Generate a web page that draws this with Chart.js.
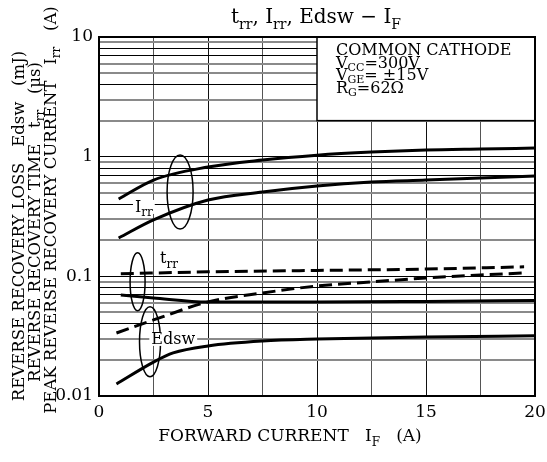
<!DOCTYPE html>
<html>
<head>
<meta charset="utf-8">
<script src="https://cdn.jsdelivr.net/npm/chart.js@4/dist/chart.umd.min.js"></script>
<style>
  html, body { margin: 0; padding: 0; background: #fff; }
  #wrap { width: 547px; height: 462px; }
</style>
</head>
<body>
<div id="wrap"><canvas id="c"></canvas></div>
<script>
// Curvas (IF en A, valores en escala log)
const IRR_IF   = [0.9, 2.5, 5, 7.5, 10, 12.5, 15, 17.5, 20];
const IRR_HI   = [0.443, 0.638, 0.82, 0.938, 1.03, 1.094, 1.138, 1.16, 1.18];
const IRR_LO   = [0.209, 0.296, 0.434, 0.507, 0.569, 0.614, 0.638, 0.664, 0.69];

const TRR_A_IF = [1, 5, 10, 15, 19.5];
const TRR_A    = [0.105, 0.109, 0.112, 0.115, 0.12];       // trazo cortado
const TRR_B_IF = [1, 2.5, 5, 10, 15, 20];
const TRR_B    = [0.0698, 0.0659, 0.061, 0.061, 0.0617, 0.0628];

const EDSW_A_IF = [0.8, 2.5, 5, 7.5, 10, 12.5, 15, 17.5, 19.5];
const EDSW_A    = [0.0336, 0.0432, 0.0611, 0.0726, 0.083, 0.0898, 0.0969, 0.1026, 0.1066]; // cortado
const EDSW_B_IF = [0.8, 2.5, 3.4, 5, 7.5, 10, 15, 20];
const EDSW_B    = [0.0126, 0.0192, 0.0229, 0.0262, 0.0288, 0.0299, 0.0311, 0.0319];

const Y_TICK_LABELS = ['0.01', '0.1', '1', '10'];
const X_TICK_LABELS = ['0', '5', '10', '15', '20'];

const FONT = '"DejaVu Serif", "Liberation Serif", serif';
Chart.defaults.font.family = FONT;
Chart.defaults.color = '#000';

const pts = (xs, ys) => xs.map((x, i) => ({ x, y: ys[i] }));

// gris / negro alternado como en la hoja de datos
const GRIS = { 9: 1, 6: 1, 5: 1, 3: 1, 2: 1 };
function colorY(ctx) {
  const v = ctx.tick && ctx.tick.value;
  if (!v) return '#000';
  const m = Math.round(v / Math.pow(10, Math.floor(Math.log10(v) + 1e-9)));
  return GRIS[m] ? '#8a8a8a' : '#000';
}
function anchoY(ctx) { return colorY(ctx) === '#000' ? 1 : 2; }

// texto con subíndices: segs = [[texto, esSub], ...]
function medir(ctx, segs, size, k) {
  const sub = Math.round(size * (k || 0.72));
  let w = 0;
  segs.forEach(([t, s]) => { ctx.font = (s ? sub : size) + 'px ' + FONT; w += ctx.measureText(t).width; });
  return w;
}
function rich(ctx, segs, x, y, size, align, k, off) {
  const sub = Math.round(size * (k || 0.72));
  const w = medir(ctx, segs, size, k);
  let cx = align === 'center' ? x - w / 2 : align === 'right' ? x - w : x;
  ctx.textAlign = 'left';
  ctx.textBaseline = 'alphabetic';
  segs.forEach(([t, s]) => {
    ctx.font = (s ? sub : size) + 'px ' + FONT;
    ctx.fillText(t, cx, y + (s ? size * (off || 0.28) : 0));
    cx += ctx.measureText(t).width;
  });
  return w;
}

const deco = {
  id: 'deco',
  beforeDatasetsDraw(chart) {
    const { ctx, scales: { x, y } } = chart;
    // recuadro de condiciones (tapa la grilla)
    const x0 = x.getPixelForValue(10), x1 = x.getPixelForValue(20);
    const y0 = y.getPixelForValue(10), y1 = y.getPixelForValue(2);
    ctx.save();
    ctx.fillStyle = '#fff';
    ctx.fillRect(x0, y0, x1 - x0, y1 - y0);
    ctx.strokeStyle = '#000'; ctx.lineWidth = 1.5;
    ctx.strokeRect(x0, y0, x1 - x0, y1 - y0);
    ctx.fillStyle = '#000';
    const tx = x0 + 19;
    rich(ctx, [['COMMON CATHODE', 0]], tx, 55, 16, 'left');
    rich(ctx, [['V', 0], ['CC', 1], ['=300V', 0]], tx, 67.5, 16, 'left', 0.66, 0.2);
    rich(ctx, [['V', 0], ['GE', 1], ['= \u00b115V', 0]], tx, 80, 16, 'left', 0.66, 0.2);
    rich(ctx, [['R', 0], ['G', 1], ['=62\u03a9', 0]], tx, 92.5, 16, 'left', 0.66, 0.2);
    ctx.restore();
  },
  afterDatasetsDraw(chart) {
    const { ctx, chartArea: a, scales: { x, y } } = chart;
    ctx.save();
    // marco
    ctx.strokeStyle = '#000'; ctx.lineWidth = 2;
    ctx.strokeRect(a.left, a.top, a.right - a.left, a.bottom - a.top);

    // elipses de agrupación
    ctx.lineWidth = 1.5;
    [[3.72, 0.507, 13, 37], [1.77, 0.0902, 7.5, 29], [2.34, 0.0284, 10.5, 35]].forEach(([ix, v, rx, ry]) => {
      ctx.beginPath();
      ctx.ellipse(x.getPixelForValue(ix), y.getPixelForValue(v), rx, ry, 0, 0, 2 * Math.PI);
      ctx.stroke();
    });

    // etiquetas de curva (fondo blanco sobre la grilla)
    const lbl = (segs, ix, v) => {
      const px = x.getPixelForValue(ix), py = y.getPixelForValue(v);
      const w = medir(ctx, segs, 16);
      ctx.fillStyle = '#fff';
      ctx.fillRect(px - 2, py - 7, w + 4, 14);
      ctx.fillStyle = '#000';
      rich(ctx, segs, px, py + 5, 16, 'left');
    };
    lbl([['I', 0], ['rr', 1]], 1.65, 0.38);
    lbl([['t', 0], ['rr', 1]], 2.8, 0.142);
    lbl([['Edsw', 0]], 2.4, 0.03);

    // títulos
    rich(ctx, [['t', 0], ['rr', 1], [', I', 0], ['rr', 1], [', Edsw \u2212 I', 0], ['F', 1]], 316, 23, 20, 'center');
    rich(ctx, [['FORWARD CURRENT   I', 0], ['F', 1], ['   (A)', 0]], 290, 441, 17, 'center');

    const vert = (segs, cx, cy) => {
      ctx.save();
      ctx.translate(cx, cy);
      ctx.rotate(-Math.PI / 2);
      rich(ctx, segs, 0, 5.5, 16.5, 'center');
      ctx.restore();
    };
    vert([['REVERSE RECOVERY LOSS   Edsw   (mJ)', 0]], 18, 226);
    vert([['REVERSE RECOVERY TIME   t', 0], ['rr', 1], ['   (\u03bcs)', 0]], 34, 222);
    vert([['PEAK REVERSE RECOVERY CURRENT   I', 0], ['rr', 1], ['   (A)', 0]], 50, 210);
    ctx.restore();
  }
};

const linea = (data, dash) => ({
  data, borderColor: '#000', borderWidth: 3, borderDash: dash || [],
  pointRadius: 0, cubicInterpolationMode: 'monotone', fill: false
});

new Chart(document.getElementById('c'), {
  type: 'line',
  data: {
    datasets: [
      linea(pts(IRR_IF, IRR_HI)),
      linea(pts(IRR_IF, IRR_LO)),
      linea(pts(TRR_A_IF, TRR_A), [13, 6]),
      linea(pts(TRR_B_IF, TRR_B)),
      linea(pts(EDSW_A_IF, EDSW_A), [13, 6]),
      linea(pts(EDSW_B_IF, EDSW_B)),
    ]
  },
  options: {
    responsive: true, maintainAspectRatio: false, animation: false,
    layout: { padding: { top: 37, right: 12, left: 0, bottom: 0 } },
    plugins: { legend: { display: false }, tooltip: { enabled: false } },
    scales: {
      x: {
        type: 'linear', min: 0, max: 20,
        afterFit: s => { s.height = 66; s.paddingRight = 0; s.paddingLeft = 0; },
        afterBuildTicks: s => { s.ticks = [0, 2.5, 5, 7.5, 10, 12.5, 15, 17.5, 20].map(v => ({ value: v })); },
        ticks: {
          padding: 6, font: { size: 17 }, maxRotation: 0, autoSkip: false,
          callback: v => (v % 5 === 0 ? X_TICK_LABELS[v / 5] : '')
        },
        grid: { drawTicks: false, color: c => (c.tick && c.tick.value % 5 === 0 ? '#111' : '#555'), lineWidth: 1 },
        border: { display: false }
      },
      y: {
        type: 'logarithmic', min: 0.01, max: 10,
        afterFit: s => { s.width = 99; s.paddingTop = 0; s.paddingBottom = 0; },
        afterBuildTicks: s => {
          const t = [];
          [0.01, 0.1, 1].forEach(d => { for (let k = 1; k < 10; k++) t.push({ value: +(d * k).toPrecision(3) }); });
          t.push({ value: 10 });
          s.ticks = t;
        },
        ticks: {
          padding: 6, font: { size: 17 }, autoSkip: false,
          callback: v => { const i = [0.01, 0.1, 1, 10].indexOf(v); return i >= 0 ? Y_TICK_LABELS[i] : ''; }
        },
        grid: { drawTicks: false, color: colorY, lineWidth: anchoY },
        border: { display: false }
      }
    }
  },
  plugins: [deco]
});
</script>
</body>
</html>
